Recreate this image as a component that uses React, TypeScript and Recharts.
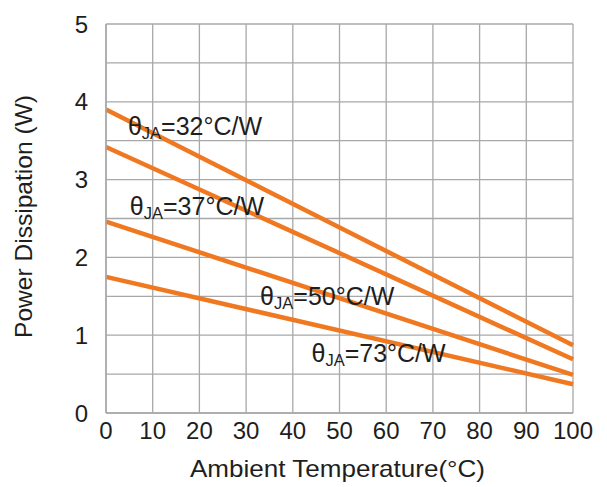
import React from 'react';
import { LineChart, Line, XAxis, YAxis, CartesianGrid, ReferenceDot } from 'recharts';

const temperatures = [0, 100];
const theta32 = [3.9, 0.87];
const theta37 = [3.42, 0.69];
const theta50 = [2.46, 0.49];
const theta73 = [1.75, 0.37];

const xTicks = [0, 10, 20, 30, 40, 50, 60, 70, 80, 90, 100];
const yTicks = [0, 0.5, 1, 1.5, 2, 2.5, 3, 3.5, 4, 4.5, 5];

const labelTexts = ['=32°C/W', '=37°C/W', '=50°C/W', '=73°C/W'];
const labelX = [4.7, 5.1, 33, 44];
const labelY = [3.57, 2.545, 1.39, 0.65];

const data = temperatures.map((t, i) => ({
  t,
  a: theta32[i],
  b: theta37[i],
  c: theta50[i],
  d: theta73[i],
}));

const FONT = '"Liberation Sans", Arial, sans-serif';
const ORANGE = '#F07820';
const GRID = '#A8A8A8';
const TEXT = '#1E1E1E';

const makeLabelShape = (txt: string) => (props: any) => (
  <text x={props.cx} y={props.cy} fontFamily={FONT} fontSize={25} fill={TEXT}>
    θ
    <tspan fontSize={16.5} dy={4}>JA</tspan>
    <tspan dy={-4}>{txt}</tspan>
  </text>
);

export default function App() {
  return (
    <div style={{ position: 'absolute', left: 0, top: 0, width: 607, height: 487, background: '#fff' }}>
      <LineChart width={607} height={487} data={data} margin={{ top: 24, right: 34, left: 0, bottom: 0 }}>
        <CartesianGrid stroke={GRID} strokeWidth={1.3} horizontal vertical />
        <XAxis
          dataKey="t"
          type="number"
          domain={[0, 100]}
          ticks={xTicks}
          interval={0}
          height={74}
          tickLine={false}
          tickSize={0}
          tickMargin={9}
          axisLine={{ stroke: GRID, strokeWidth: 1.5 }}
          tick={{ fontSize: 24, fill: TEXT, fontFamily: FONT }}
          label={{
            content: (p: any) => {
              const vb = p.viewBox;
              return (
                <text
                  x={vb.x + vb.width / 2 - 2}
                  y={vb.y + 64}
                  textAnchor="middle"
                  fontFamily={FONT}
                  fontSize={24}
                  fill={TEXT}
                  textLength={295}
                  lengthAdjust="spacingAndGlyphs"
                >
                  Ambient Temperature(°C)
                </text>
              );
            },
          }}
        />
        <YAxis
          type="number"
          domain={[0, 5]}
          ticks={yTicks}
          interval={0}
          width={106}
          tickLine={false}
          tickSize={0}
          tickMargin={18}
          axisLine={{ stroke: GRID, strokeWidth: 1.5 }}
          tickFormatter={(v: number) => (Number.isInteger(v) ? String(v) : '')}
          tick={{ fontSize: 24, fill: TEXT, fontFamily: FONT }}
          label={{
            content: (p: any) => {
              const vb = p.viewBox;
              const cx = vb.x + 32;
              const cy = vb.y + vb.height / 2 - 2;
              return (
                <text
                  x={cx}
                  y={cy}
                  transform={`rotate(-90, ${cx}, ${cy})`}
                  textAnchor="middle"
                  fontFamily={FONT}
                  fontSize={24}
                  fill={TEXT}
                  textLength={243}
                  lengthAdjust="spacingAndGlyphs"
                >
                  Power Dissipation (W)
                </text>
              );
            },
          }}
        />
        <Line dataKey="a" stroke={ORANGE} strokeWidth={4.5} dot={false} isAnimationActive={false} />
        <Line dataKey="b" stroke={ORANGE} strokeWidth={4.5} dot={false} isAnimationActive={false} />
        <Line dataKey="c" stroke={ORANGE} strokeWidth={4.5} dot={false} isAnimationActive={false} />
        <Line dataKey="d" stroke={ORANGE} strokeWidth={4.5} dot={false} isAnimationActive={false} />
        {labelTexts.map((txt, i) => (
          <ReferenceDot key={i} x={labelX[i]} y={labelY[i]} r={0} shape={makeLabelShape(txt)} />
        ))}
      </LineChart>
    </div>
  );
}
